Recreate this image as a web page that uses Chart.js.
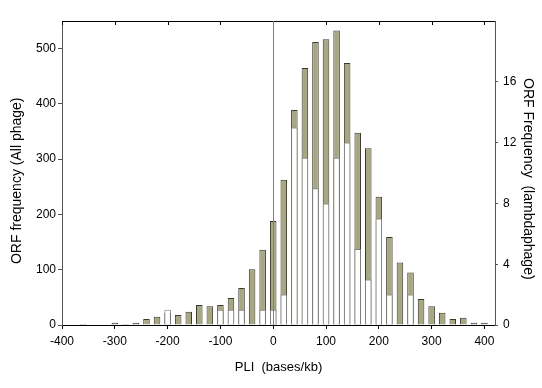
<!DOCTYPE html>
<html>
<head>
<meta charset="utf-8">
<script src="https://cdn.jsdelivr.net/npm/chart.js@4.4.1/dist/chart.umd.min.js"></script>
<style>
  html, body { margin: 0; padding: 0; background: #fff; }
  #wrap { width: 542px; height: 388px; }
</style>
</head>
<body>
<div id="wrap"><canvas id="pli"></canvas></div>
<script>
// PLI bins (bases/kb), bar centres
const bins = [-360, -340, -320, -300, -280, -260, -240, -220, -200, -180,
              -160, -140, -120, -100, -80, -60, -40, -20, 0, 20,
              40, 60, 80, 100, 120, 140, 160, 180, 200, 220,
              240, 260, 280, 300, 320, 340, 360, 380, 400];
// ORF frequency, all phage (left axis)
const allPhage = [2, 0, 0, 4, 2, 4, 11, 15, 22, 18,
                  24, 36, 34, 36, 49, 67, 101, 136, 188, 263,
                  389, 465, 512, 517, 533, 474, 348, 320, 232, 159,
                  113, 95, 47, 34, 22, 11, 13, 4, 4];
// ORF frequency, lambdaphage (right axis)
const lambda = [0, 0, 0, 0, 0, 0, 0, 0, 1, 0,
                0, 0, 0, 1, 1, 1, 0, 1, 1, 2,
                13, 11, 9, 8, 11, 12, 5, 3, 7, 2,
                0, 2, 0, 0, 0, 0, 0, 0, 0];
const xTicks = [-400, -300, -200, -100, 0, 100, 200, 300, 400];

const FONT = "'Liberation Sans', Arial, sans-serif";
const olive = 'rgb(168,167,132)';

// frame top line, inward ticks at the top and the vertical line at PLI = 0
const framePlugin = {
  id: 'frame',
  afterDatasetsDraw(chart) {
    const {ctx, chartArea: a, scales} = chart;
    const x = scales.x;
    ctx.save();
    ctx.strokeStyle = '#000';
    ctx.lineWidth = 1;
    ctx.beginPath();
    ctx.moveTo(a.left, a.top + 0.5);
    ctx.lineTo(a.right, a.top + 0.5);
    ctx.stroke();
    xTicks.forEach(v => {
      const px = Math.round(x.getPixelForValue(v)) + 0.5;
      ctx.beginPath();
      ctx.moveTo(px, a.top);
      ctx.lineTo(px, a.top + 4);
      ctx.stroke();
    });
    const zx = Math.round(x.getPixelForValue(0)) + 0.5;
    ctx.strokeStyle = '#808080';
    ctx.beginPath();
    ctx.moveTo(zx, a.top);
    ctx.lineTo(zx, a.bottom);
    ctx.stroke();
    ctx.restore();
  }
};

new Chart(document.getElementById('pli'), {
  type: 'bar',
  data: {
    datasets: [
      {
        label: 'lambdaphage',
        data: bins.map((b, i) => ({x: b, y: lambda[i]})),
        yAxisID: 'y2',
        backgroundColor: '#ffffff',
        borderColor: '#808080',
        borderWidth: 1,
        grouped: false,
        order: 0
      },
      {
        label: 'All phage',
        data: bins.map((b, i) => ({x: b, y: allPhage[i]})),
        yAxisID: 'y',
        backgroundColor: olive,
        borderColor: 'rgb(58,58,44)',
        borderWidth: 1,
        grouped: false,
        order: 1
      }
    ]
  },
  options: {
    responsive: true,
    maintainAspectRatio: false,
    animation: false,
    categoryPercentage: 1,
    barPercentage: 0.62,
    layout: { padding: { top: 21, left: 0, right: 0, bottom: 0 } },
    plugins: { legend: { display: false }, tooltip: { enabled: false } },
    scales: {
      x: {
        type: 'linear',
        offset: false,
        min: -400,
        max: 420,
        afterFit: s => { s.height = 63; },
        afterBuildTicks: s => { s.ticks = xTicks.map(v => ({value: v})); },
        border: { display: true, color: '#000', width: 1 },
        grid: { drawOnChartArea: false, tickLength: 4, color: '#000', offset: false },
        ticks: { font: { family: FONT, size: 12 }, color: '#000', padding: 5, maxRotation: 0 },
        title: { display: true, text: 'PLI  (bases/kb)', font: { family: FONT, size: 13 },
                 color: '#000', padding: { top: 0, bottom: 13 } }
      },
      y: {
        position: 'left',
        min: 0,
        max: 550,
        afterFit: s => { s.width = 62; },
        afterBuildTicks: s => { s.ticks = s.ticks.filter(t => t.value % 100 === 0 && t.value <= 500); },
        border: { display: true, color: '#555', width: 1 },
        grid: { drawOnChartArea: false, tickLength: 4, color: '#555' },
        ticks: { stepSize: 100, font: { family: FONT, size: 12 }, color: '#000', padding: 2 },
        title: { display: true, text: 'ORF frequency (All phage)    ', font: { family: FONT, size: 14 },
                 color: '#000', padding: { top: 9, bottom: 0 } }
      },
      y2: {
        position: 'right',
        min: 0,
        max: 20,
        afterFit: s => { s.width = 47; },
        afterBuildTicks: s => { s.ticks = s.ticks.filter(t => t.value % 4 === 0 && t.value <= 16); },
        border: { display: true, color: '#555', width: 1 },
        grid: { drawOnChartArea: false, tickLength: 3, color: '#555' },
        ticks: { stepSize: 4, font: { family: FONT, size: 12 }, color: '#000', padding: 5 },
        title: { display: true, text: '   ORF Frequency  (lambdaphage)', font: { family: FONT, size: 14 },
                 color: '#000', padding: { top: 6, bottom: 0 } }
      }
    }
  },
  plugins: [framePlugin]
});
</script>
</body>
</html>
